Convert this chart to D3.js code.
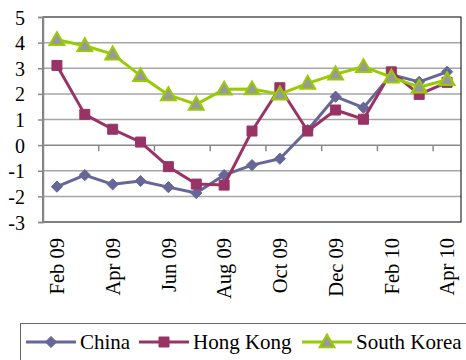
<!DOCTYPE html>
<html>
<head>
<meta charset="utf-8">
<script src="https://cdn.jsdelivr.net/npm/d3@7/dist/d3.min.js"></script>
<style>
  html, body { margin: 0; padding: 0; background: #fff; }
  svg { display: block; }
</style>
</head>
<body>
<svg id="chart" width="466" height="360" font-family="Liberation Serif"></svg>
<script>
// Monthly categories, Feb 2009 – Apr 2010
const months = ["Feb 09", "Mar 09", "Apr 09", "May 09", "Jun 09", "Jul 09", "Aug 09",
                "Sep 09", "Oct 09", "Nov 09", "Dec 09", "Jan 10", "Feb 10", "Mar 10", "Apr 10"];
const yTicks = [-3, -2, -1, 0, 1, 2, 3, 4, 5];

const china      = [-1.62, -1.17, -1.53, -1.40, -1.64, -1.87, -1.17, -0.78, -0.53, 0.59, 1.89, 1.46, 2.75, 2.47, 2.86];
const hongKong   = [3.11, 1.20, 0.62, 0.12, -0.84, -1.52, -1.56, 0.55, 2.24, 0.55, 1.37, 1.01, 2.86, 1.98, 2.45];
const southKorea = [4.11, 3.88, 3.55, 2.71, 1.96, 1.59, 2.18, 2.19, 1.99, 2.41, 2.77, 3.06, 2.65, 2.26, 2.55];

const seriesList = [
  { name: "China",       values: china,      color: "#666699", marker: "diamond" },
  { name: "Hong Kong",   values: hongKong,   color: "#993366", marker: "square" },
  { name: "South Korea", values: southKorea, color: "#99CC00", marker: "triangle" }
];

const FONT = "Liberation Serif";

const svg = d3.select("#chart");
const plot = { left: 43, right: 461, top: 17, bottom: 222 };

const x = d3.scaleBand().domain(months).range([plot.left, plot.right]).padding(0);
const y = d3.scaleLinear().domain([-3, 5]).range([plot.bottom, plot.top]);
const cx = m => x(m) + x.bandwidth() / 2;

// horizontal gridlines
svg.append("g").selectAll("line")
  .data(yTicks.filter(t => t !== 0 && t !== -3 && t !== 5))
  .join("line")
  .attr("x1", plot.left).attr("x2", plot.right)
  .attr("y1", d => y(d)).attr("y2", d => y(d))
  .attr("stroke", "#a6a6a6").attr("stroke-width", 1.5);

// plot frame
svg.append("rect")
  .attr("x", plot.left).attr("y", plot.top)
  .attr("width", plot.right - plot.left).attr("height", plot.bottom - plot.top)
  .attr("fill", "none").attr("stroke", "#000").attr("stroke-width", 1);

// value axis
const yAxis = svg.append("g")
  .attr("transform", `translate(${plot.left},0)`)
  .call(d3.axisLeft(y).tickValues(yTicks).tickSize(5).tickFormat(d3.format("d")));
yAxis.attr("font-family", FONT).attr("font-size", 20);
yAxis.select(".domain").attr("stroke", "#888").attr("stroke-width", 1.5);
yAxis.selectAll(".tick line").attr("stroke", "#888").attr("stroke-width", 1.5);
yAxis.selectAll(".tick text")
  .attr("x", -18).attr("dy", "0.35em")
  .attr("font-family", FONT)
  .text(d => d < 0 ? "-" + Math.abs(d) : d);

// category axis along zero, ticks every two months at the band edges
const zeroY = y(0);
const edgeTicks = months.filter((m, i) => i % 2 === 0 && i > 0).map(m => x(m));
const xg = svg.append("g");
xg.append("line")
  .attr("x1", plot.left).attr("x2", plot.right)
  .attr("y1", zeroY).attr("y2", zeroY)
  .attr("stroke", "#888").attr("stroke-width", 1.5);
xg.selectAll("line.tk").data(edgeTicks).join("line").attr("class", "tk")
  .attr("x1", d => d).attr("x2", d => d)
  .attr("y1", zeroY).attr("y2", zeroY + 6)
  .attr("stroke", "#888").attr("stroke-width", 1.5);

// rotated month labels below the frame
svg.append("g").attr("font-size", 20.5)
  .selectAll("text")
  .data(months.filter((m, i) => i % 2 === 0))
  .join("text")
  .attr("font-family", FONT)
  .attr("transform", d => `translate(${cx(d)},238) rotate(-90)`)
  .attr("text-anchor", "end")
  .attr("dy", "0.35em")
  .text(d => d);

// marker shapes
function markerPath(type) {
  if (type === "diamond") return d3.symbol().type(d3.symbolDiamond2 || d3.symbolDiamond).size(80)();
  if (type === "square") return d3.symbol().type(d3.symbolSquare).size(100)();
  return d3.symbol().type(d3.symbolTriangle).size(95)();
}
function styleMarker(sel, s) {
  if (s.marker === "triangle") {
    sel.attr("fill", "#999999").attr("stroke", s.color).attr("stroke-width", 2);
  } else {
    sel.attr("fill", s.color).attr("stroke", s.color).attr("stroke-width", 1);
  }
}

const line = d3.line().x((d, i) => cx(months[i])).y(d => y(d));

seriesList.forEach(s => {
  const g = svg.append("g");
  g.append("path")
    .datum(s.values)
    .attr("d", line)
    .attr("fill", "none")
    .attr("stroke", s.color)
    .attr("stroke-width", 3)
    .attr("stroke-linejoin", "round");
  const dPath = markerPath(s.marker);
  g.selectAll("path.mk").data(s.values).join("path").attr("class", "mk")
    .attr("d", dPath)
    .attr("transform", (d, i) => `translate(${cx(months[i])},${y(d) + (s.marker === "triangle" ? 1 : 0)})`)
    .call(sel => styleMarker(sel, s));
});

// legend
const legend = svg.append("g").attr("font-size", 21);
legend.append("rect")
  .attr("x", 20.5).attr("y", 323.5).attr("width", 460).attr("height", 50)
  .attr("fill", "#fff").attr("stroke", "#666").attr("stroke-width", 1);

const legendX = [26, 139, 302];
seriesList.forEach((s, i) => {
  const lx = legendX[i], ly = 342;
  legend.append("line")
    .attr("x1", lx).attr("x2", lx + 50).attr("y1", ly).attr("y2", ly)
    .attr("stroke", s.color).attr("stroke-width", 3);
  legend.append("path")
    .attr("d", markerPath(s.marker))
    .attr("transform", `translate(${lx + 25},${ly + (s.marker === "triangle" ? 1 : 0)})`)
    .call(sel => styleMarker(sel, s));
  legend.append("text")
    .attr("font-family", FONT)
    .attr("x", lx + 54).attr("y", ly).attr("dy", "0.35em")
    .text(s.name);
});
</script>
</body>
</html>
